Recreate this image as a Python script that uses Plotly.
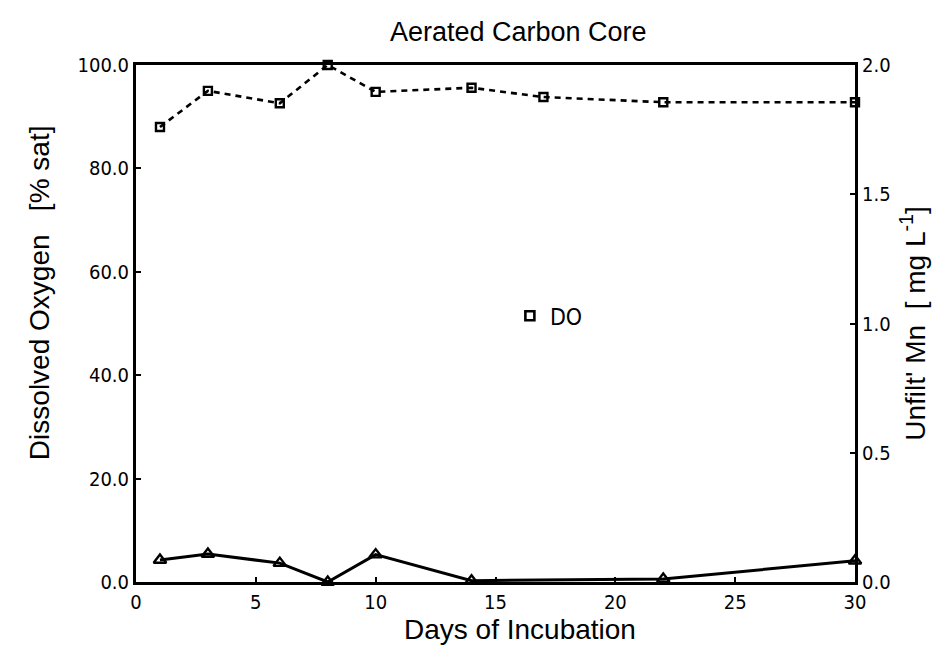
import plotly.graph_objects as go

# Dissolved oxygen (% saturation) by day of incubation
do_days = [1, 3, 6, 8, 10, 14, 17, 22, 30]
do_sat = [88.0, 95.0, 92.6, 100.0, 94.8, 95.6, 93.8, 92.8, 92.8]

# Unfiltered manganese (mg/L) by day of incubation
mn_days = [1, 3, 6, 8, 10, 14, 22, 30]
mn_conc = [0.085, 0.108, 0.073, 0.0, 0.106, 0.005, 0.012, 0.082]

x_ticks = [0, 5, 10, 15, 20, 25, 30]
y_ticks = [0, 20, 40, 60, 80, 100]
y2_ticks = [0.0, 0.5, 1.0, 1.5, 2.0]

NARROW = "DejaVu Sans Condensed, Liberation Sans Narrow, Arial Narrow, Liberation Sans, sans-serif"
SANS = "Liberation Sans, Arial, sans-serif"

fig = go.Figure()

# DO series: dashed line with open squares
fig.add_trace(go.Scatter(
    x=do_days, y=do_sat, mode="lines+markers", showlegend=False,
    line=dict(color="black", width=2.6, dash="6px,5px"),
    marker=dict(symbol="square-open", size=8, color="black",
                line=dict(width=2.4, color="black")),
    cliponaxis=False,
))

# Mn series on the secondary axis: solid line with open triangles
fig.add_trace(go.Scatter(
    x=mn_days, y=mn_conc, mode="lines+markers", yaxis="y2", showlegend=False,
    line=dict(color="black", width=3),
    marker=dict(symbol="triangle-up-open", size=11, color="black",
                line=dict(width=2.4, color="black")),
    cliponaxis=False,
))

# Legend entry showing only the DO marker
fig.add_trace(go.Scatter(
    x=[None], y=[None], mode="markers", name="DO",
    marker=dict(symbol="square-open", size=9, color="black",
                line=dict(width=2.6, color="black")),
))

axis_common = dict(
    showgrid=False, zeroline=False, showline=True, linecolor="black",
    linewidth=3, ticks="inside", ticklen=5, tickwidth=2, tickcolor="black",
    tickfont=dict(family=NARROW, size=20, color="black"),
)

title_font = dict(family=SANS, size=28, color="black")

fig.update_layout(
    width=944, height=667,
    margin=dict(l=136, r=89, t=65, b=85),
    paper_bgcolor="white", plot_bgcolor="white",
    title=dict(text="Aerated Carbon Core", x=0.549, xanchor="center",
               y=0.953, yanchor="middle",
               font=dict(family=SANS, size=27, color="black")),
    xaxis=dict(
        range=[0, 30], tickvals=x_ticks, ticktext=[str(v) for v in x_ticks],
        mirror=True, **axis_common,
    ),
    yaxis=dict(
        range=[0, 100], tickvals=y_ticks, tickformat=".1f",
        **axis_common,
    ),
    yaxis2=dict(
        range=[0, 2], tickvals=y2_ticks, tickformat=".1f",
        overlaying="y", side="right",
        title=dict(text="Unfilt' Mn\u00a0\u00a0[ mg L<sup>-1</sup>]", standoff=16,
                   font=title_font),
        **axis_common,
    ),
    legend=dict(x=0.52, y=0.515, xanchor="left", yanchor="middle",
                bgcolor="rgba(0,0,0,0)", itemwidth=30,
                font=dict(family=NARROW, size=23, color="black")),
    annotations=[
        dict(text="Days of Incubation", xref="paper", yref="paper",
             x=0.534, y=-0.092, xanchor="center", yanchor="middle",
             showarrow=False, font=title_font),
        dict(text="Dissolved Oxygen\u00a0\u00a0\u00a0[% sat]", xref="paper",
             yref="paper", x=-0.134, y=0.56, xanchor="center", yanchor="middle",
             textangle=-90, showarrow=False, font=title_font),
    ],
)

fig.write_html("out.html")
